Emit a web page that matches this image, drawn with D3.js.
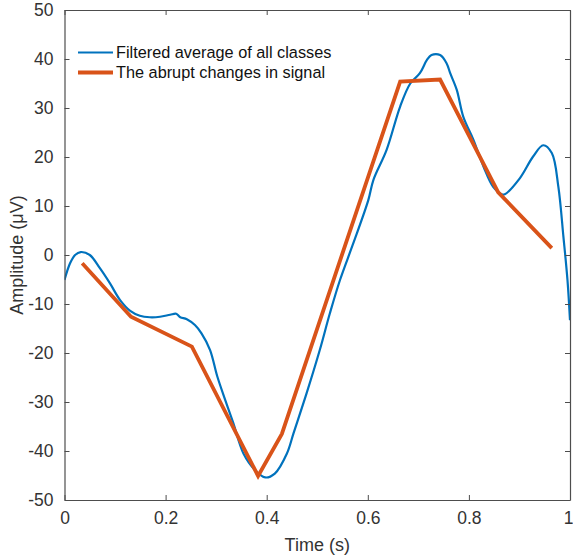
<!DOCTYPE html>
<html>
<head>
<meta charset="utf-8">
<script src="https://cdn.jsdelivr.net/npm/d3@7/dist/d3.min.js"></script>
<style>
  html, body { margin: 0; padding: 0; background: #fff; }
  svg { display: block; font-family: "Liberation Sans", Arial, Helvetica, sans-serif; }
</style>
</head>
<body>
<svg id="chart" width="573" height="560"></svg>
<script>
// ---- data ----
const filteredTime = [0.0, 0.011, 0.021, 0.032, 0.050, 0.070, 0.090, 0.110, 0.130, 0.149, 0.169, 0.189, 0.209, 0.221, 0.229, 0.242, 0.258, 0.271, 0.288, 0.302, 0.318, 0.334, 0.354, 0.377, 0.397, 0.416, 0.440, 0.453, 0.479, 0.505, 0.525, 0.545, 0.571, 0.601, 0.611, 0.637, 0.664, 0.684, 0.703, 0.717, 0.726, 0.743, 0.756, 0.763, 0.776, 0.789, 0.809, 0.829, 0.848, 0.865, 0.871, 0.901, 0.927, 0.947, 0.964, 0.977, 0.987, 0.995, 1.0];
const filteredAmp  = [-5.1, -1.7, 0.0, 0.6, 0.0, -2.7, -5.8, -9.2, -11.4, -12.4, -12.7, -12.6, -12.2, -12.0, -12.7, -13.1, -14.3, -16.0, -19.4, -24.7, -29.6, -34.3, -40.5, -43.9, -45.4, -44.6, -40.5, -36.4, -28.2, -19.4, -11.9, -5.1, 2.3, 11.2, 15.3, 21.4, 30.3, 35.0, 37.1, 39.8, 40.8, 40.8, 39.1, 37.1, 33.7, 28.2, 23.5, 18.0, 13.9, 12.4, 12.4, 15.7, 20.1, 22.4, 20.8, 13.9, 3.7, -5.1, -13.3];

const abruptTime = [0.035, 0.1315, 0.252, 0.383, 0.43, 0.664, 0.743, 0.858, 0.964];
const abruptAmp  = [-1.7, -12.6, -18.7, -45.1, -36.5, 35.4, 35.8, 12.8, 1.4];

const xTicks = [0, 0.2, 0.4, 0.6, 0.8, 1];
const xTickLabels = ["0", "0.2", "0.4", "0.6", "0.8", "1"];
const yTicks = [-50, -40, -30, -20, -10, 0, 10, 20, 30, 40, 50];
const yTickLabels = ["-50", "-40", "-30", "-20", "-10", "0", "10", "20", "30", "40", "50"];
const seriesNames = ["Filtered average of all classes", "The abrupt changes in signal"];
const seriesColors = ["#0072BD", "#D95319"];

// ---- layout ----
const svg = d3.select("#chart");
const L = 64.5, R = 570, T = 10, B = 500;
const x = d3.scaleLinear().domain([0, 1]).range([L, R]);
const y = d3.scaleLinear().domain([-50, 50]).range([B, T]);
const axisColor = "#4d4d4d";
const textColor = "#333333";
const tickFont = 17.5;

svg.append("rect").attr("width", 573).attr("height", 560).attr("fill", "#fff");

svg.append("clipPath").attr("id", "clip").append("rect")
  .attr("x", L).attr("y", T).attr("width", R - L).attr("height", B - T);

const blueData = filteredTime.map((t, i) => [t, filteredAmp[i]]);
const orangeData = abruptTime.map((t, i) => [t, abruptAmp[i]]);

const smooth = d3.line().x(d => x(d[0])).y(d => y(d[1])).curve(d3.curveCatmullRom.alpha(0.5));
const straight = d3.line().x(d => x(d[0])).y(d => y(d[1]));

const g = svg.append("g").attr("clip-path", "url(#clip)");
g.append("path").datum(blueData).attr("d", smooth)
  .attr("fill", "none").attr("stroke", seriesColors[0]).attr("stroke-width", 2.2)
  .attr("stroke-linejoin", "round");
g.append("path").datum(orangeData).attr("d", straight)
  .attr("fill", "none").attr("stroke", seriesColors[1]).attr("stroke-width", 3.8)
  .attr("stroke-linejoin", "miter");

// axes
const tickLen = 5;
const xAxisB = d3.axisBottom(x).tickValues(xTicks).tickFormat((d, i) => xTickLabels[i]).tickSizeInner(-tickLen).tickSizeOuter(0).tickPadding(12);
const xAxisT = d3.axisTop(x).tickValues(xTicks).tickFormat("").tickSizeInner(-tickLen).tickSizeOuter(0);
const yAxisL = d3.axisLeft(y).tickValues(yTicks).tickFormat((d, i) => yTickLabels[i]).tickSizeInner(-tickLen).tickSizeOuter(0).tickPadding(11);
const yAxisR = d3.axisRight(y).tickValues(yTicks).tickFormat("").tickSizeInner(-tickLen).tickSizeOuter(0);

function style(sel) {
  sel.select(".domain").attr("stroke", axisColor).attr("stroke-width", 1.2);
  sel.selectAll(".tick line").attr("stroke", axisColor).attr("stroke-width", 1);
  sel.selectAll(".tick text").attr("fill", textColor).style("font-size", tickFont + "px")
     .style("font-family", "'Liberation Sans', Arial, sans-serif");
}
const xb = svg.append("g").attr("transform", `translate(0,${B})`).call(xAxisB).call(style);
// keep the last label ("1") inside the window
xb.selectAll(".tick text").filter(d => d === 1).attr("text-anchor", "end").attr("dx", "3");
svg.append("g").attr("transform", `translate(0,${T})`).call(xAxisT).call(style);
svg.append("g").attr("transform", `translate(${L},0)`).call(yAxisL).call(style);
svg.append("g").attr("transform", `translate(${R},0)`).call(yAxisR).call(style);

// axis labels
svg.append("text").attr("x", (L + R) / 2).attr("y", 551).attr("text-anchor", "middle")
  .attr("fill", textColor).style("font-size", "18px").text("Time (s)");
svg.append("text").attr("transform", `translate(23,${(T + B) / 2}) rotate(-90)`)
  .attr("text-anchor", "middle").attr("fill", textColor).style("font-size", "18px")
  .text("Amplitude (μV)");

// legend
const legY = [52.5, 72.5];
seriesNames.forEach((name, i) => {
  svg.append("line").attr("x1", 78).attr("x2", 113).attr("y1", legY[i]).attr("y2", legY[i])
    .attr("stroke", seriesColors[i]).attr("stroke-width", i === 0 ? 2.2 : 3.8);
  svg.append("text").attr("x", 116).attr("y", legY[i] + 5.5).attr("fill", "#111")
    .style("font-size", "16.3px").text(name);
});
</script>
</body>
</html>
